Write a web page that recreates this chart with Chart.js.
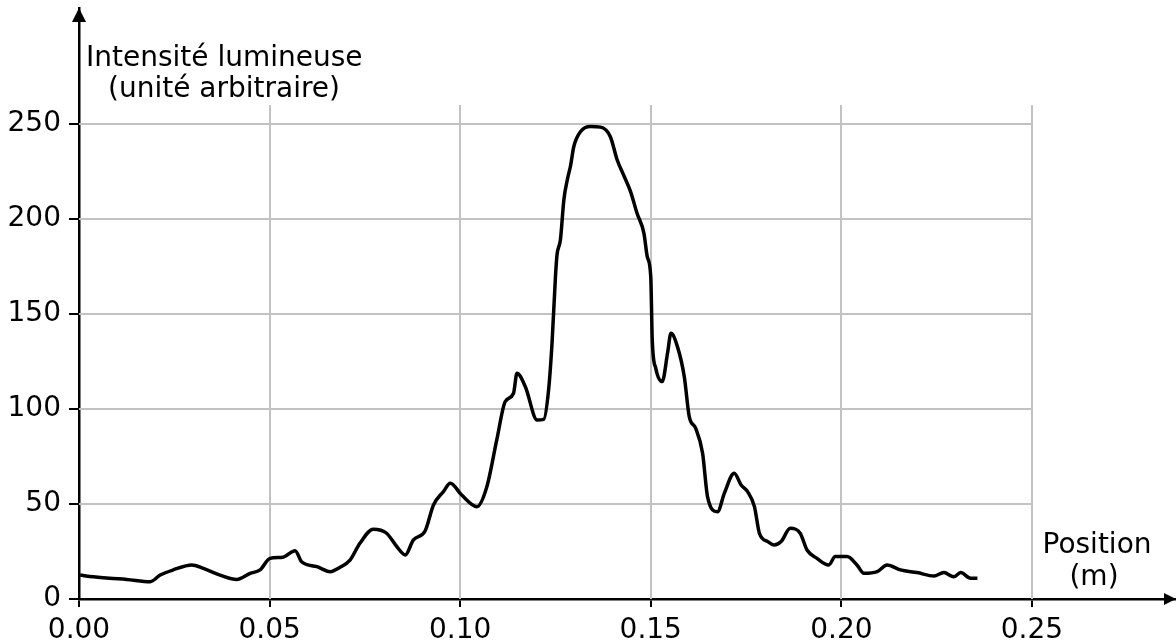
<!DOCTYPE html>
<html>
<head>
<meta charset="utf-8">
<script src="https://cdn.jsdelivr.net/npm/chart.js@4/dist/chart.umd.min.js"></script>
<style>
  html, body { margin: 0; padding: 0; background: #fff; }
  #wrap { width: 1176px; height: 644px; position: relative; }
</style>
</head>
<body>
<div id="wrap"><canvas id="profile"></canvas></div>
<script>
// intensity profile
const positions = [
  0.0003, 0.0037, 0.008, 0.0125, 0.0187, 0.0213, 0.0247, 0.0296, 0.0326, 0.037,
  0.0414, 0.0449, 0.0475, 0.0501, 0.0535, 0.0567, 0.0584, 0.0624, 0.0659, 0.0685,
  0.0711, 0.0737, 0.0772, 0.0807, 0.0834, 0.0856, 0.0877, 0.0908, 0.093, 0.0956,
  0.0974, 0.1004, 0.1044, 0.107, 0.1096, 0.1118, 0.114, 0.1149, 0.1171, 0.1202,
  0.1219, 0.1232, 0.1241, 0.125, 0.1254, 0.1263, 0.1272, 0.1281, 0.129, 0.1298,
  0.1316, 0.1342, 0.1368, 0.1394, 0.1412, 0.1429, 0.1447, 0.1464, 0.1482, 0.1491,
  0.15, 0.1504, 0.1513, 0.153, 0.1544, 0.1553, 0.157, 0.1588, 0.1601, 0.1618,
  0.1636, 0.1649, 0.1675, 0.1693, 0.1719, 0.1737, 0.1754, 0.1772, 0.1785, 0.1807,
  0.1824, 0.1842, 0.1866, 0.1892, 0.191, 0.1936, 0.1967, 0.1984, 0.2015, 0.2041,
  0.2059, 0.2094, 0.212, 0.2155, 0.2199, 0.2243, 0.2269, 0.2295, 0.2313, 0.2339,
  0.2357
];
const intensity = [
  12.6, 11.7, 10.9, 10.3, 9.1, 12.6, 15.3, 17.9, 16.1, 12.6,
  10.3, 13.5, 15.3, 21.4, 22, 25.4, 19.6, 17, 14.4, 16.7,
  20.5, 29.3, 36.7, 34.6, 27.5, 23.2, 31, 35.8, 49.5, 56.5,
  60.9, 54.7, 48.6, 59.1, 83.7, 103.8, 108.3, 118.8, 111.7, 94.2,
  94.5, 110, 134.6, 169.6, 181, 189, 210, 220.5, 228.4, 238,
  246, 248.6, 248.3, 243.3, 231, 223, 214.4, 203, 192.5, 180,
  169.6, 136, 121.5, 114.4, 129.3, 139.8, 132.8, 117, 96, 89.8,
  76.7, 53.8, 45.9, 55.6, 66.2, 60, 56.5, 48.6, 34.6, 30.2,
  28.4, 30.2, 37.2, 34.6, 25.8, 21.4, 17.9, 22.3, 22.3, 17.9,
  13.5, 14.4, 17.9, 15.3, 13.9, 12.1, 13.9, 11.7, 13.9, 10.9,
  10.9
];

const xTicks = [0, 0.05, 0.1, 0.15, 0.2, 0.25];
const yTicks = [0, 50, 100, 150, 200, 250];
const xAxisLabel = ['Position', '(m)'];
const yAxisLabel = ['Intensité lumineuse', '(unité arbitraire)'];

const FONT = '"DejaVu Sans", sans-serif';
const GRID_TOP = 260; // grid lines stop here, the axis goes on with an arrow

// grid limited to 0..0.25 / 0..260, arrows and axis titles
const decor = {
  id: 'decor',
  beforeDatasetsDraw(chart) {
    const { ctx, scales: { x, y } } = chart;
    ctx.save();
    ctx.strokeStyle = '#c2c2c2';
    ctx.lineWidth = 2;
    xTicks.slice(1).forEach(v => {
      const px = Math.round(x.getPixelForValue(v));
      ctx.beginPath();
      ctx.moveTo(px, y.getPixelForValue(0));
      ctx.lineTo(px, y.getPixelForValue(GRID_TOP));
      ctx.stroke();
    });
    yTicks.slice(1).forEach(v => {
      const py = Math.round(y.getPixelForValue(v));
      ctx.beginPath();
      ctx.moveTo(x.getPixelForValue(0), py);
      ctx.lineTo(x.getPixelForValue(xTicks[xTicks.length - 1]), py);
      ctx.stroke();
    });
    ctx.restore();
  },
  afterDraw(chart) {
    const { ctx, chartArea: a } = chart;
    ctx.save();
    ctx.fillStyle = '#000';
    // arrow on y axis
    ctx.beginPath();
    ctx.moveTo(a.left, a.top);
    ctx.lineTo(a.left - 7, a.top + 14);
    ctx.lineTo(a.left + 7, a.top + 14);
    ctx.closePath();
    ctx.fill();
    // arrow on x axis
    ctx.beginPath();
    ctx.moveTo(a.right, a.bottom);
    ctx.lineTo(a.right - 12, a.bottom - 6);
    ctx.lineTo(a.right - 12, a.bottom + 6);
    ctx.closePath();
    ctx.fill();

    ctx.font = '28px ' + FONT;
    ctx.textBaseline = 'alphabetic';
    ctx.textAlign = 'left';
    ctx.fillText(yAxisLabel[0], 86, 66);
    ctx.fillText(yAxisLabel[1], 108, 97);
    ctx.textAlign = 'center';
    ctx.fillText(xAxisLabel[0], 1097, 553);
    ctx.fillText(xAxisLabel[1], 1094, 585);
    ctx.restore();
  }
};

new Chart(document.getElementById('profile'), {
  type: 'scatter',
  data: {
    datasets: [{
      data: positions.map((p, i) => ({ x: p, y: intensity[i] })),
      showLine: true,
      borderColor: '#000',
      borderWidth: 3.5,
      pointRadius: 0,
      cubicInterpolationMode: 'monotone'
    }]
  },
  options: {
    responsive: true,
    maintainAspectRatio: false,
    animation: false,
    layout: { padding: { top: 8, right: 0, left: 0, bottom: 0 } },
    plugins: { legend: { display: false }, tooltip: { enabled: false } },
    scales: {
      x: {
        type: 'linear',
        min: 0,
        max: 0.2878,
        afterBuildTicks: s => { s.ticks = xTicks.map(v => ({ value: v })); },
        afterFit: s => { s.height = 45; s.paddingLeft = 0; s.paddingRight = 0; },
        grid: { drawOnChartArea: false, drawTicks: true, tickLength: 8, tickColor: '#000', lineWidth: 2 },
        border: { display: true, color: '#000', width: 2.5 },
        ticks: {
          color: '#000', font: { family: FONT, size: 28 }, padding: 7,
          maxRotation: 0, autoSkip: false,
          callback: v => Number(v).toFixed(2)
        }
      },
      y: {
        type: 'linear',
        min: 0,
        max: 311,
        afterBuildTicks: s => { s.ticks = yTicks.map(v => ({ value: v })); },
        afterFit: s => { s.width = 79; s.paddingTop = 0; s.paddingBottom = 0; },
        grid: { drawOnChartArea: false, drawTicks: true, tickLength: 10, tickColor: '#000', lineWidth: 2 },
        border: { display: true, color: '#000', width: 2.5 },
        ticks: {
          color: '#000', font: { family: FONT, size: 28 }, padding: 8,
          autoSkip: false,
          callback: v => String(v)
        }
      }
    }
  },
  plugins: [decor]
});
</script>
</body>
</html>
